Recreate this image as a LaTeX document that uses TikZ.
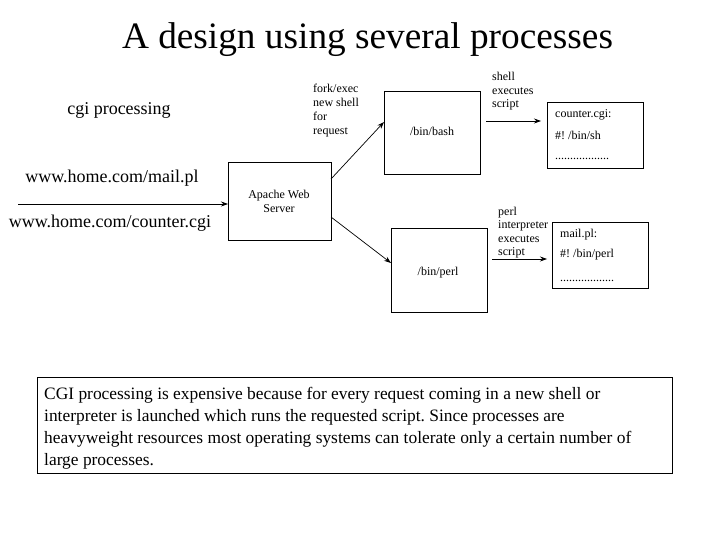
\documentclass[tikz,border=0pt]{standalone}
\usepackage{fontspec}
\setmainfont{Liberation Serif}
\usetikzlibrary{arrows.meta}
\frenchspacing
\begin{document}
\begin{tikzpicture}[x=1pt,y=-1pt,
  box/.style={draw,line width=0.9pt,inner sep=0pt,outer sep=0pt},
  small/.style={font=\fontsize{12}{14}\selectfont,inner sep=0pt},
  big/.style={font=\fontsize{18}{22}\selectfont,inner sep=0pt},
  arr/.style={line width=0.7pt,-{Stealth[length=7pt,width=5pt]}}]
\useasboundingbox (0,0) rectangle (720,540);
% title
\node[anchor=base,inner sep=0pt,font=\fontsize{37.3}{40}\selectfont] (title) at (367.5,49) {A design using several processes};
% left labels
\node[big,anchor=base] (cgi) at (119,115) {cgi processing};
\node[big,anchor=base] (mail) at (112,183) {www.home.com/mail.pl};
\node[big,anchor=base] (counter) at (110,228) {www.home.com/counter.cgi};
\coordinate (start) at (18,204);
% boxes
\node[box,minimum width=103pt,minimum height=78pt] (apache) at (279.5,201) {};
\node[small,anchor=base] (apt1) at (279,199) {Apache Web};
\node[small,anchor=base] (apt2) at (279,212) {Server};
\node[box,minimum width=96pt,minimum height=83pt] (bash) at (432,132.5) {};
\node[small,anchor=base] (basht) at (432,136) {/bin/bash};
\node[box,minimum width=96pt,minimum height=84pt] (perl) at (439,270) {};
\node[small,anchor=base] (perlt) at (438,275) {/bin/perl};
\node[box,minimum width=96pt,minimum height=66pt] (cgibox) at (595,135) {};
\node[small,anchor=base west] (c1) at (555,118) {counter.cgi:};
\node[small,anchor=base west] (c2) at (555,140) {\#! /bin/sh};
\node[small,anchor=base west] (c3) at (555,160) {..................};
\node[box,minimum width=96pt,minimum height=66pt] (plbox) at (600,255) {};
\node[small,anchor=base west] (m1) at (560,237) {mail.pl:};
\node[small,anchor=base west] (m2) at (560,258) {\#! /bin/perl};
\node[small,anchor=base west] (m3) at (560,281) {..................};
% small labels
\node[small,anchor=base west] (f1) at (313,93) {fork/exec};
\node[small,anchor=base west] (f2) at (313,107) {new shell};
\node[small,anchor=base west] (f3) at (313,121) {for};
\node[small,anchor=base west] (f4) at (313,135) {request};
\node[small,anchor=base west] (s1) at (492,81) {shell};
\node[small,anchor=base west] (s2) at (492,95) {executes};
\node[small,anchor=base west] (s3) at (492,108) {script};
\node[small,anchor=base west] (p1) at (498,215) {perl};
\node[small,anchor=base west] (p2) at (498,229) {interpreter};
\node[small,anchor=base west] (p3) at (498,242) {executes};
\node[small,anchor=base west] (p4) at (498,255) {script};
% arrows
\draw[arr] (start) -- (apache.west |- start);
\coordinate (a1) at (331,179);
\coordinate (b1) at (384,122);
\draw[arr] (a1) -- (b1);
\coordinate (a2) at (331,217);
\coordinate (b2) at (391,263);
\draw[arr] (a2) -- (b2);
\coordinate (sh0) at (486,121);
\coordinate (sh1) at (541,121);
\draw[arr] (sh0) -- (sh1);
\coordinate (pl0) at (492,259);
\coordinate (pl1) at (547,259);
\draw[arr] (pl0) -- (pl1);
% bottom box
\node[box,minimum width=635pt,minimum height=96pt] (note) at (354.5,425) {};
\node[anchor=base west,inner sep=0pt,align=left,font=\fontsize{17.4}{22}\selectfont] (notet) at (44,465) {CGI processing is expensive because for every request coming in a new shell or\\interpreter is launched which runs the requested script. Since processes are\\heavyweight resources most operating systems can tolerate only a certain number of\\large processes.};
\end{tikzpicture}
\end{document}
